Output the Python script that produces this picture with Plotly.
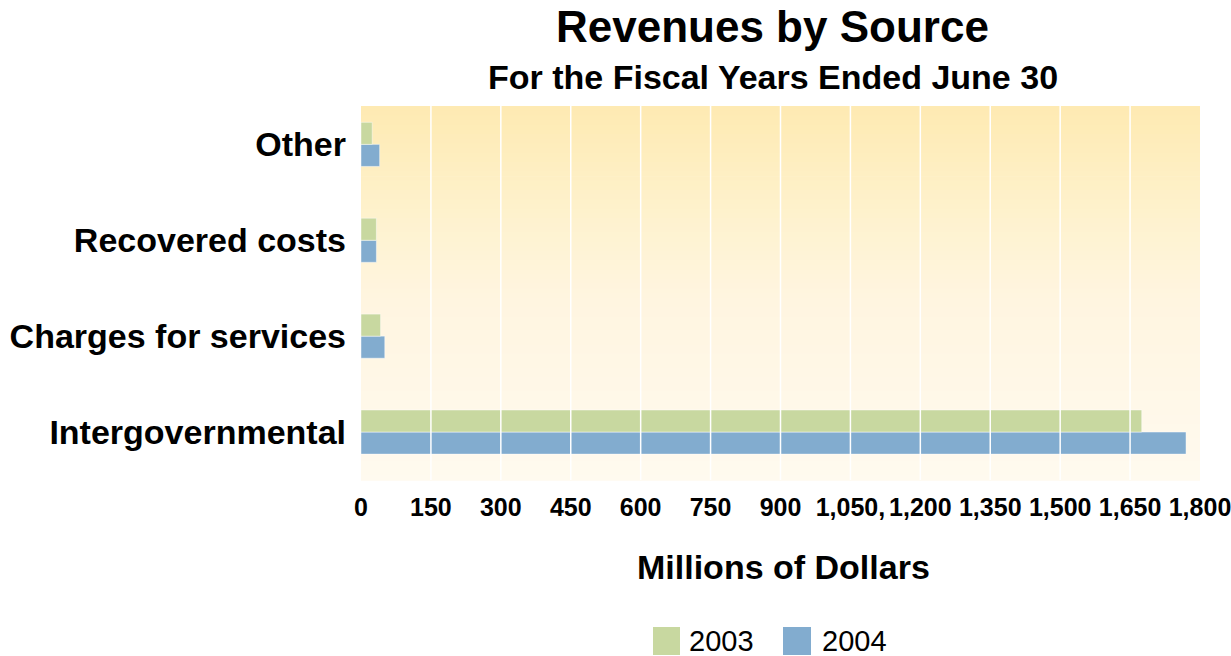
import plotly.graph_objects as go

# ---- data ----
categories = ["Intergovernmental", "Charges for services", "Recovered costs", "Other"]
values_2003 = [1675, 42, 33, 24]
values_2004 = [1770, 51, 33, 40]
tick_values = [0, 150, 300, 450, 600, 750, 900, 1050, 1200, 1350, 1500, 1650, 1800]
tick_labels = ["0", "150", "300", "450", "600", "750", "900", "1,050,", "1,200",
               "1,350", "1,500", "1,650", "1,800"]
series_names = ["2003", "2004"]

# ---- styling ----
W, H = 1231, 656
L, R, T, B = 361, 31, 106, 176
PW, PH = W - L - R, H - T - B
GREEN = "#C8D8A0"
BLUE = "#82ACCF"
FONT = "Liberation Sans, Arial, Helvetica, sans-serif"


def px(x):
    return (x - L) / PW


def py(y):
    return (T + PH - y) / PH


fig = go.Figure()
fig.add_trace(go.Bar(y=categories, x=values_2004, name=series_names[1], orientation="h",
                     marker=dict(color=BLUE, line=dict(color="rgba(255,255,255,0.45)", width=1))))
fig.add_trace(go.Bar(y=categories, x=values_2003, name=series_names[0], orientation="h",
                     marker=dict(color=GREEN, line=dict(color="rgba(255,255,255,0.45)", width=1))))

shapes = []
# vertical gradient background
stops = [(0.0, (254, 234, 178)), (0.3, (254, 242, 206)), (0.52, (255, 245, 224)), (1.0, (255, 250, 239))]


def col_at(t):
    for (t0, c0), (t1, c1) in zip(stops[:-1], stops[1:]):
        if t0 <= t <= t1:
            f = (t - t0) / (t1 - t0)
            return "rgb(%d,%d,%d)" % tuple(round(a + (b - a) * f) for a, b in zip(c0, c1))
    return "rgb(%d,%d,%d)" % stops[-1][1]


N = 80
for i in range(N):
    t = (i + 0.5) / N
    shapes.append(dict(type="rect", xref="paper", yref="paper", x0=0, x1=1,
                       y0=1 - (i + 1) / N - 0.002, y1=1 - i / N,
                       fillcolor=col_at(t), line=dict(width=0), layer="below"))
# white gridlines drawn over the bars
for v in tick_values[1:-1]:
    shapes.append(dict(type="line", xref="x", yref="paper", x0=v, x1=v, y0=0, y1=1,
                       line=dict(color="white", width=1.5), layer="above"))

# manual legend
legend_items = [(series_names[0], GREEN, 653, 680, 687), (series_names[1], BLUE, 783, 811, 820)]
annotations = []
for name, color, sx0, sx1, tx in legend_items:
    shapes.append(dict(type="rect", xref="paper", yref="paper", x0=px(sx0), x1=px(sx1),
                       y0=py(655), y1=py(627), fillcolor=color, line=dict(width=0)))
    annotations.append(dict(text=name, xref="paper", yref="paper", x=px(tx), y=py(641),
                            xanchor="left", yanchor="middle", showarrow=False,
                            font=dict(family=FONT, size=29, color="black")))

annotations += [
    dict(text="<b>Revenues by Source</b>", xref="paper", yref="paper", x=px(772), y=py(26),
         xanchor="center", yanchor="middle", showarrow=False,
         font=dict(family=FONT, size=44, color="black")),
    dict(text="<b>For the Fiscal Years Ended June 30</b>", xref="paper", yref="paper",
         x=px(773), y=py(76.5), xanchor="center", yanchor="middle", showarrow=False,
         font=dict(family=FONT, size=34, color="black")),
    dict(text="<b>Millions of Dollars</b>", xref="paper", yref="paper", x=px(783), y=py(566.5),
         xanchor="center", yanchor="middle", showarrow=False,
         font=dict(family=FONT, size=34, color="black")),
]

fig.update_layout(
    width=W, height=H, autosize=False,
    margin=dict(l=L, r=R, t=T, b=B, pad=0, autoexpand=False),
    paper_bgcolor="white", plot_bgcolor="rgb(255,250,239)",
    barmode="group", bargap=0.54, bargroupgap=0,
    showlegend=False,
    shapes=shapes, annotations=annotations,
    xaxis=dict(range=[0, 1800], tickvals=tick_values, ticktext=tick_labels,
               showgrid=False, zeroline=False, showline=False, ticks="", tickangle=0,
               tickfont=dict(family=FONT, size=25, color="black", weight="bold"),
               ticklabelstandoff=10, ticklabeloverflow="allow", automargin=False,
               fixedrange=True),
    yaxis=dict(categoryorder="array", categoryarray=categories, range=[-0.5, 3.4],
               showgrid=False, zeroline=False, showline=False, ticks="",
               tickfont=dict(family=FONT, size=34, color="black", weight="bold"),
               ticklabelstandoff=14, ticklabeloverflow="allow", automargin=False,
               fixedrange=True),
)

fig.write_html("out.html")
